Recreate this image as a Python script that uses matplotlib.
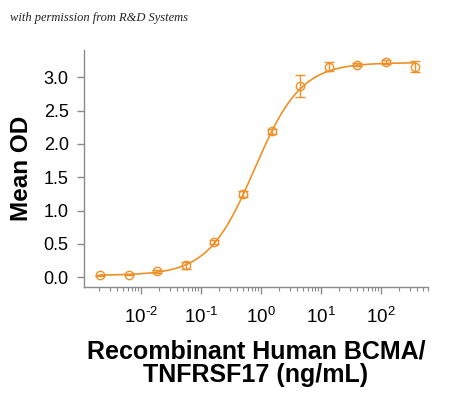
import numpy as np
import matplotlib
matplotlib.use("Agg")
import matplotlib.pyplot as plt
from matplotlib.ticker import LogLocator, FixedLocator, NullFormatter

# Data
conc = [0.00206, 0.0062, 0.0185, 0.0556, 0.167, 0.5, 1.5, 4.5, 13.5, 40.5, 121.5, 364.5]
mean_od = [0.03, 0.04, 0.09, 0.18, 0.53, 1.25, 2.19, 2.87, 3.16, 3.19, 3.23, 3.16]
od_err = [0.01, 0.01, 0.02, 0.05, 0.03, 0.05, 0.04, 0.16, 0.065, 0.02, 0.03, 0.085]

# 4PL fit parameters for the curve
fit_bottom = 0.03
fit_top = 3.22
fit_ec50 = 0.78
fit_hill = 1.12

y_ticks = [0.0, 0.5, 1.0, 1.5, 2.0, 2.5, 3.0]
x_ticks = [1e-2, 1e-1, 1e0, 1e1, 1e2]
x_exponents = ['\u20102', '\u20101', '0', '1', '2']

ORANGE = '#EE9128'
GREY = '#8a8a8a'

plt.rcParams['font.family'] = ['Liberation Sans', 'DejaVu Sans']
plt.rcParams['mathtext.fontset'] = 'custom'
plt.rcParams['mathtext.rm'] = 'Liberation Sans'

fig = plt.figure(figsize=(4.5, 3.98), dpi=100)
ax = fig.add_axes([0.1867, 0.2789, 0.951 - 0.1867, 0.8744 - 0.2789])

# fitted curve
xx = np.logspace(np.log10(conc[0]), np.log10(conc[-1]), 300)
yy = fit_bottom + (fit_top - fit_bottom) / (1 + (fit_ec50 / xx) ** fit_hill)
ax.plot(xx, yy, color=ORANGE, lw=1.2, zorder=2)

ax.errorbar(conc, mean_od, yerr=od_err, fmt='o', ms=6, mfc='none', mec=ORANGE,
            mew=1.0, ecolor=ORANGE, elinewidth=1.0, capsize=3.5, capthick=1.0, zorder=3)

ax.set_xscale('log')
ax.set_xlim(0.00112, 607)
ax.set_ylim(-0.145, 3.41)

ax.xaxis.set_major_locator(FixedLocator(x_ticks))
ax.set_xticklabels(['$\\mathregular{10^{%s}}$' % e for e in x_exponents])
ax.xaxis.set_minor_locator(LogLocator(base=10, subs=np.arange(2, 10)))
ax.xaxis.set_minor_formatter(NullFormatter())
ax.set_yticks(y_ticks)
ax.set_yticklabels([f'{v:.1f}' for v in y_ticks])

for s in ['top', 'right']:
    ax.spines[s].set_visible(False)
for s in ['left', 'bottom']:
    ax.spines[s].set_color(GREY)
    ax.spines[s].set_linewidth(1.0)

ax.tick_params(axis='y', which='major', length=5, width=1, color=GREY, labelsize=13, pad=6)
ax.tick_params(axis='x', which='major', length=5, width=1, color=GREY, labelsize=13.5, pad=9)
ax.tick_params(axis='x', which='minor', length=3, width=0.8, color=GREY)

ax.set_ylabel('Mean OD', fontsize=17.5, fontweight='bold', labelpad=8)
ax.set_xlabel('Recombinant Human BCMA/\nTNFRSF17 (ng/mL)', fontsize=18, fontweight='bold',
              labelpad=9, linespacing=1.0)

fig.text(0.022, 0.955, 'with permission from R&D Systems', fontsize=9, style='italic',
         family='Liberation Serif', color='#222222', va='center')

fig.savefig('out.png', dpi=100)
